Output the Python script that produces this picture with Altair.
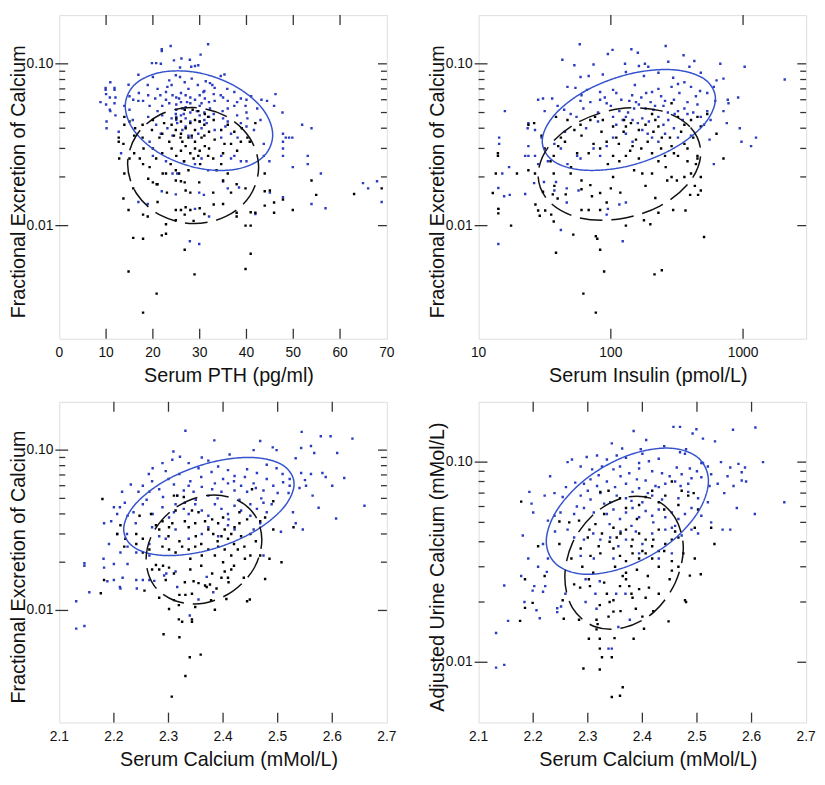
import altair as alt
import pandas as pd

FONT = "Liberation Sans"
PT_BLUE = "#2a3cc0"
ELL_BLUE = "#3553cc"
FRAME = "#333333"
TXT = "#111111"

# ---------------- Panel 1: Serum PTH ----------------
p1_blue = [(31.8,0.132),(23.8,0.129),(21.9,0.123),(21.9,0.12),(30.2,0.114),(27.9,0.106),(26.1,0.108),(19.8,0.101),(20.7,0.101),(21.7,0.10),(24.5,0.105),(29.7,0.098),(28.2,0.096),(29.0,0.097),(25.8,0.095),
(16.9,0.0856),(14.8,0.0742),(9.9,0.071),(9.9,0.069),(10.9,0.077),(11.8,0.071),(11.8,0.069),(18.9,0.074),(20.0,0.083),(23.1,0.072),(22.8,0.067),(24.9,0.085),(25.8,0.083),(26.8,0.077),(27.6,0.070),(30.8,0.067),(32.2,0.076),(32.7,0.074),(33.2,0.071),(34.5,0.084),(35.3,0.086),(35.9,0.070),(29.6,0.074),(23.5,0.079),(31.3,0.078),(37.4,0.067),(28.3,0.081),
(8.8,0.058),(10.8,0.062),(10.8,0.052),(10.9,0.051),(11.8,0.057),(13.9,0.055),(15.8,0.060),(16.9,0.059),(17.9,0.059),(19.3,0.055),(20.5,0.061),(21.6,0.064),(22.8,0.060),(23.5,0.057),(24.2,0.064),(24.9,0.049),(25.0,0.047),(25.6,0.061),(26.3,0.053),(27.3,0.058),(28.0,0.062),(29.0,0.060),(29.4,0.051),(30.4,0.057),(31.1,0.061),(32.2,0.053),(33.2,0.059),(34.5,0.064),(34.9,0.051),(36.0,0.059),(37.4,0.055),(38.8,0.061),(39.8,0.055),(41.0,0.063),(42.3,0.053),(43.2,0.060),(44.4,0.059),(46.2,0.065),(45.9,0.055),(47.7,0.050),(26.6,0.049),
(10.1,0.044),(10.1,0.040),(12.7,0.038),(15.7,0.045),(19.3,0.033),(20.7,0.042),(21.7,0.037),(23.1,0.040),(24.2,0.036),(25.2,0.043),(26.3,0.039),(27.6,0.036),(28.3,0.035),(29.7,0.037),(30.4,0.040),(31.5,0.043),(33.2,0.039),(34.6,0.035),(35.5,0.041),(36.7,0.037),(38.1,0.035),(38.8,0.043),(40.2,0.046),(41.6,0.039),(43.0,0.045),(43.7,0.032),(47.8,0.037),(48.4,0.035),(49.1,0.035),(49.8,0.035),(51.9,0.042),(53.9,0.040),(47.8,0.033),(47.8,0.030),
(13.2,0.028),(20.0,0.027),(22.8,0.025),(24.2,0.021),(25.2,0.021),(26.6,0.025),(29.0,0.024),(30.4,0.026),(31.8,0.022),(34.6,0.027),(36.7,0.026),(37.4,0.027),(38.8,0.025),(40.0,0.025),(43.7,0.027),(44.9,0.025),(47.8,0.027),(49.9,0.023),(53.1,0.027),(53.1,0.024),(55.9,0.021),
(16.9,0.0140),(18.9,0.0136),(21.9,0.0163),(24.9,0.0156),(29.0,0.0127),(29.9,0.016),(30.9,0.0155),(32.0,0.0114),(35.0,0.0187),(36.0,0.017),(38.4,0.0172),(45.0,0.016),(47.8,0.015),(41.9,0.0118),(53.9,0.0136),(56.9,0.0128),(64.9,0.0183),(66.0,0.017),(67.9,0.0188),(68.9,0.014),(27.9,0.008),(29.9,0.0077),
(25,0.062),(25,0.056),(25,0.052),(25,0.045),(26,0.066),(26,0.058),(26,0.048),(27,0.064),(27,0.054),(27,0.046),(27,0.041),(28,0.057),(28,0.050),(28,0.044),(30,0.064),(30,0.055),(30,0.048),(30,0.044),(31,0.068),(31,0.050),(31,0.045),(32,0.058),(32,0.047),(33,0.065),(33,0.049),(35,0.062),(35,0.046),(36,0.053),(36,0.044),(38,0.058),(38,0.048),(40,0.060),(40,0.050),(40,0.041),(22,0.055),(22,0.048),(21,0.070),(21,0.051),(24,0.074),(24,0.046),(19,0.064),(19,0.047),(17,0.066),(15,0.052),(15,0.063),(12,0.062),(12,0.048),(10,0.065),(10,0.056)]
p1_black = [(13.9,0.047),(26.8,0.052),(28.5,0.052),(29.7,0.051),(31.1,0.049),(31.8,0.047),
(13.9,0.042),(12.7,0.035),(12.7,0.033),(13.7,0.032),(16.2,0.040),(17.8,0.042),(17.8,0.035),(19.8,0.039),(21.4,0.035),(22.4,0.043),(23.5,0.033),(24.5,0.036),(24.9,0.039),(25.9,0.035),(26.3,0.033),(27.6,0.035),(28.3,0.036),(29.0,0.033),(30.4,0.035),(31.1,0.031),(33.2,0.034),(34.6,0.039),(35.3,0.032),(36.7,0.032),(37.4,0.038),(38.8,0.033),(40.2,0.035),(40.7,0.033),(41.9,0.043),
(12.8,0.026),(13.9,0.021),(15.0,0.026),(17.2,0.026),(17.9,0.024),(19.3,0.023),(20.7,0.026),(22.1,0.021),(22.8,0.021),(23.8,0.024),(24.9,0.022),(25.6,0.021),(26.7,0.025),(27.6,0.022),(28.7,0.026),(29.7,0.027),(30.1,0.024),(31.8,0.027),(32.9,0.026),(33.6,0.022),(34.6,0.024),(36.0,0.021),(43.9,0.021),
(13.7,0.0147),(14.8,0.0125),(15.8,0.017),(17.9,0.0117),(18.9,0.0114),(20.0,0.0185),(20.8,0.018),(24.9,0.019),(26.0,0.0188),(26.8,0.0185),(27.0,0.0165),(28.0,0.016),(29.9,0.0185),(32.9,0.016),(35.0,0.0136),(36.7,0.016),(37.9,0.018),(39.8,0.017),(24.9,0.0125),(24.9,0.0108),(26.0,0.0125),(26.8,0.0117),(28.0,0.0125),(28.7,0.0107),(30.0,0.0128),(31.0,0.0118),(37.9,0.012),(37.9,0.0114),(40.9,0.0121),(41.9,0.012),(43.9,0.0163),(45.0,0.0165),(45.9,0.0139),(45.9,0.012),(47.8,0.0145),(49.9,0.0125),(53.9,0.019),(54.9,0.0155),(63.0,0.0157),(68.9,0.017),(43.9,0.0133),
(15.8,0.0084),(17.9,0.0083),(21.9,0.0087),(22.8,0.0089),(22.8,0.0102),(26.8,0.0071),(39.8,0.010),(40.9,0.010),(40.9,0.0067),(14.8,0.0052),(28.9,0.0050),(39.8,0.0054),(20.8,0.0038),(17.9,0.0029),
(20,0.030),(20,0.045),(22,0.028),(22,0.037),(24,0.030),(24,0.042),(25,0.027),(25,0.046),(26,0.029),(26,0.037),(26,0.044),(27,0.031),(27,0.040),(28,0.028),(28,0.043),(29,0.030),(29,0.039),(29,0.045),(30,0.029),(30,0.044),(31,0.036),(31,0.042),(32,0.030),(32,0.038),(33,0.045),(35,0.028),(36,0.042),(38,0.029),(39,0.040),(18,0.030),(16,0.028),(16,0.036),(15,0.044),(21,0.018),(21,0.014),(23,0.016),(27,0.013),(33,0.0135),(35,0.019),(19,0.0195)]
p1_ell_blue = [(45.6,0.0363),(43.5,0.0524),(37.7,0.0724),(29.9,0.0879),(22.0,0.0889),(16.2,0.0748),(14.1,0.0547),(16.2,0.0379),(22.0,0.0274),(29.9,0.0226),(37.7,0.0223),(43.5,0.0265)]
p1_ell_black = [(42.6,0.0230),(40.7,0.0348),(35.6,0.0475),(28.6,0.0537),(21.6,0.0486),(16.5,0.0362),(14.6,0.0240),(16.5,0.0158),(21.6,0.0116),(28.6,0.0103),(35.6,0.0114),(40.7,0.0152)]

# ---------------- Panel 2: Serum Insulin ----------------
p2_blue = [(58.2,0.132),(260,0.129),(143,0.123),(103,0.122),(160,0.117),(95,0.115),(355,0.113),(43,0.106),(53,0.098),(74,0.099),(128,0.10),(163,0.097),(181,0.10),(192,0.096),(272,0.103),(393,0.096),(428,0.104),(673,0.10),(1028,0.096),(2066,0.080),
(59,0.083),(68,0.084),(87,0.086),(130,0.089),(178,0.084),(229,0.088),(296,0.082),(360,0.077),(479,0.088),(630,0.079),(711,0.081),
(47,0.072),(54,0.071),(66,0.069),(83,0.067),(104,0.069),(152,0.074),(205,0.067),(229,0.070),(288,0.072),(322,0.075),(404,0.072),(473,0.068),(536,0.066),(601,0.072),(766,0.060),(918,0.062),
(15.8,0.051),(23.8,0.043),(28.2,0.060),(30.7,0.061),(36,0.061),(39.6,0.055),(31.6,0.051),(44.4,0.052),(49.7,0.049),(59,0.059),(62,0.053),(83,0.060),(93,0.057),(116,0.051),(138,0.059),(150,0.053),(163,0.056),(183,0.053),(216,0.055),(257,0.059),(322,0.051),(360,0.053),(452,0.056),(536,0.051),(616,0.059),(776,0.057),(711,0.051),
(104,0.047),(123,0.045),(130,0.047),(146,0.045),(173,0.046),(194,0.044),(229,0.047),(272,0.045),(304,0.049),(380,0.049),(479,0.047),(568,0.045),(753,0.043),(944,0.040),(1253,0.035),(1150,0.031),(973,0.033),(558,0.034),
(23.5,0.040),(26.7,0.039),(29.9,0.035),(14.3,0.035),(14.3,0.032),(23.8,0.031),(23.8,0.027),(37.4,0.032),(41.9,0.030),(55.6,0.027),(74,0.030),(93,0.031),(104,0.035),(130,0.037),(146,0.033),(173,0.039),(205,0.035),(229,0.033),(257,0.037),(322,0.035),(404,0.036),(507,0.042),
(17,0.023),(15.1,0.021),(22.5,0.027),(26.7,0.027),(28.2,0.024),(33.4,0.025),(47,0.024),(59,0.026),(83,0.027),(601,0.024),
(14.1,0.0171),(14.1,0.0127),(14.1,0.0077),(15.6,0.0152),(17.2,0.0155),(22.5,0.0157),(26.3,0.0183),(31.2,0.0186),(37.4,0.0165),(38.5,0.0186),(46.4,0.017),(46.4,0.0139),(41.9,0.0094),(57,0.0165),(95,0.0127),(116,0.0135),(130,0.0139),(123,0.008),(93,0.0117),
(60,0.064),(70,0.058),(80,0.050),(90,0.062),(100,0.055),(110,0.066),(120,0.060),(135,0.050),(145,0.064),(155,0.058),(170,0.062),(185,0.066),(200,0.058),(210,0.052),(240,0.063),(250,0.055),(270,0.050),(300,0.060),(330,0.066),(350,0.045),(380,0.058),(420,0.050),(440,0.063),(110,0.042),(160,0.043),(190,0.037),(250,0.042),(300,0.040),(80,0.044),(65,0.040),(45,0.038),(55,0.047)]
p2_black = [(23.8,0.042),(26.3,0.043),(29.9,0.036),(38.5,0.047),(47,0.045),(41.9,0.035),(53,0.039),(59,0.042),(70,0.045),(76,0.047),(87,0.045),(104,0.041),(110,0.035),(126,0.045),(130,0.041),(142,0.043),(163,0.039),(183,0.042),(205,0.049),(217,0.045),(229,0.041),(243,0.035),(288,0.057),(322,0.047),(360,0.042),(404,0.045),(452,0.047),(479,0.041),(536,0.049),(360,0.032),(630,0.037),(711,0.026),(452,0.027),
(14,0.028),(14,0.027),(13.5,0.021),(19.5,0.021),(23.8,0.022),(26.7,0.021),(31.6,0.030),(37,0.027),(55.6,0.028),(74,0.032),(83,0.030),(93,0.033),(104,0.027),(116,0.025),(130,0.027),(146,0.031),(163,0.026),(205,0.028),(229,0.025),(257,0.027),(288,0.031),(322,0.027),(380,0.025),(452,0.026),(404,0.021),(37,0.021),(49.7,0.021),(104,0.020),(173,0.021),(205,0.021),(288,0.020),(360,0.020),(479,0.020),
(12.8,0.0159),(14.1,0.0127),(14.1,0.0119),(17.6,0.010),(26.9,0.0135),(28.2,0.0124),(29,0.0115),(30.7,0.0162),(31.9,0.0124),(35.4,0.0117),(36.4,0.0156),(37,0.0106),(37.4,0.0176),(38.5,0.0068),(39.6,0.0147),(45.6,0.0156),(52,0.0088),(60,0.0168),(60,0.0125),(68,0.0125),(70,0.0178),(72,0.0152),(83,0.0159),(83,0.0125),(77,0.0086),(79,0.0083),(83,0.0071),(89,0.0052),(62,0.0038),(77,0.0029),(93,0.0139),(118,0.016),(130,0.010),(178,0.0108),(183,0.0176),(199,0.0102),(214,0.005),(243,0.0053),(217,0.0148),(229,0.012),(267,0.019),(296,0.0125),(316,0.019),(367,0.0124),(398,0.0155),(432,0.0176),(457,0.0155),(479,0.0165),(507,0.0085),
(45,0.033),(60,0.036),(68,0.028),(85,0.038),(95,0.024),(115,0.032),(125,0.038),(140,0.029),(155,0.034),(170,0.030),(190,0.033),(210,0.038),(240,0.030),(260,0.023),(280,0.035),(300,0.028),(340,0.038),(380,0.030),(420,0.035),(440,0.024),(35,0.025),(40,0.031),(50,0.023),(150,0.022),(100,0.017),(60,0.019)]
p2_ell_blue = [(618,0.0608),(505,0.0809),(291,0.0920),(137,0.0864),(64.4,0.0681),(37.2,0.0480),(30.3,0.0333),(37.2,0.0249),(64.4,0.0220),(137,0.0234),(291,0.0297),(505,0.0421)]
p2_ell_black = [(479,0.0282),(396,0.0409),(235,0.0514),(116,0.0527),(57.3,0.0438),(34.1,0.0310),(28.2,0.0205),(34.1,0.0141),(57.3,0.0112),(116,0.0110),(235,0.0132),(396,0.0187)]

# ---------------- Panel 3: Serum Calcium vs FE Ca ----------------
p3_blue = [(2.331,0.132),(2.384,0.115),(2.544,0.13),(2.579,0.122),(2.597,0.122),(2.637,0.118),(2.468,0.114),(2.309,0.098),(2.456,0.10),(2.491,0.104),(2.498,0.10),(2.412,0.094),(2.321,0.091),(2.361,0.09),(2.373,0.086),(2.543,0.103),(2.561,0.106),(2.567,0.096),(2.609,0.096),(2.533,0.089),
(2.289,0.083),(2.307,0.087),(2.271,0.077),(2.264,0.071),(2.295,0.074),(2.337,0.083),(2.355,0.077),(2.379,0.073),(2.391,0.079),(2.409,0.075),(2.421,0.069),(2.444,0.076),(2.462,0.072),(2.48,0.081),(2.498,0.077),(2.509,0.071),(2.522,0.066),(2.543,0.072),(2.561,0.071),(2.582,0.072),(2.588,0.068),(2.622,0.067),(2.659,0.045),(2.607,0.0375),(2.575,0.0437),
(2.231,0.061),(2.215,0.055),(2.245,0.055),(2.253,0.060),(2.265,0.055),(2.283,0.057),(2.31,0.061),(2.316,0.052),(2.328,0.056),(2.337,0.060),(2.346,0.055),(2.361,0.059),(2.373,0.052),(2.385,0.062),(2.397,0.055),(2.409,0.062),(2.421,0.056),(2.433,0.060),(2.444,0.055),(2.456,0.062),(2.474,0.056),(2.492,0.060),(2.51,0.063),(2.522,0.060),(2.54,0.058),(2.552,0.060),(2.564,0.052),
(2.2,0.044),(2.211,0.044),(2.182,0.035),(2.195,0.036),(2.206,0.040),(2.225,0.039),(2.236,0.041),(2.253,0.046),(2.271,0.040),(2.289,0.044),(2.301,0.038),(2.313,0.046),(2.328,0.043),(2.337,0.040),(2.349,0.046),(2.361,0.042),(2.373,0.039),(2.385,0.046),(2.397,0.043),(2.409,0.040),(2.421,0.045),(2.433,0.042),(2.45,0.046),(2.462,0.043),(2.474,0.047),(2.48,0.041),(2.489,0.046),(2.528,0.041),(2.533,0.035),(2.546,0.032),(2.506,0.031),
(2.224,0.030),(2.206,0.030),(2.191,0.026),(2.181,0.021),(2.212,0.023),(2.225,0.025),(2.241,0.023),(2.265,0.026),(2.283,0.029),(2.295,0.028),(2.313,0.032),(2.337,0.028),(2.361,0.030),(2.373,0.033),(2.391,0.029),(2.409,0.034),(2.421,0.032),(2.456,0.032),(2.468,0.035),(2.474,0.022),(2.146,0.019),(2.265,0.022),
(2.146,0.0197),(2.131,0.0114),(2.131,0.0077),(2.146,0.008),(2.155,0.013),(2.182,0.0185),(2.188,0.0152),(2.2,0.0195),(2.2,0.0155),(2.211,0.014),(2.212,0.0137),(2.216,0.016),(2.225,0.0195),(2.241,0.0155),(2.242,0.0137),(2.253,0.0155),(2.265,0.0155),(2.274,0.0153),(2.292,0.0165),(2.296,0.017),(2.313,0.0175),(2.316,0.014),(2.339,0.0093),(2.355,0.0117),(2.37,0.0162),(2.382,0.013),
(2.30,0.066),(2.32,0.071),(2.34,0.064),(2.36,0.068),(2.38,0.057),(2.40,0.066),(2.42,0.064),(2.44,0.068),(2.46,0.058),(2.48,0.066),(2.50,0.054),(2.35,0.049),(2.39,0.050),(2.43,0.049),(2.47,0.050),(2.33,0.047),(2.29,0.051),(2.26,0.049),(2.27,0.064),(2.31,0.041),(2.41,0.037),(2.45,0.039),(2.52,0.054),(2.55,0.065),(2.60,0.060),(2.24,0.035),(2.27,0.033),(2.22,0.047)]
p3_black = [(2.179,0.0496),(2.212,0.034),(2.206,0.030),(2.219,0.025),(2.221,0.028),(2.241,0.030),(2.247,0.039),(2.253,0.028),(2.268,0.040),(2.277,0.034),(2.283,0.032),(2.289,0.036),(2.301,0.033),(2.307,0.035),(2.313,0.042),(2.31,0.052),(2.316,0.052),(2.328,0.051),(2.337,0.033),(2.343,0.042),(2.349,0.035),(2.355,0.041),(2.367,0.036),(2.373,0.032),(2.382,0.030),(2.391,0.035),(2.397,0.029),(2.403,0.032),(2.409,0.028),(2.415,0.030),(2.421,0.033),(2.43,0.041),(2.433,0.029),(2.444,0.037),(2.453,0.057),(2.468,0.036),(2.477,0.038),(2.492,0.048),(2.492,0.032),(2.529,0.033),(2.507,0.020),(2.485,0.021),(2.468,0.022),(2.45,0.022),(2.439,0.025),(2.427,0.024),(2.415,0.022),(2.403,0.024),(2.391,0.025),(2.385,0.022),(2.373,0.024),(2.361,0.022),(2.349,0.025),(2.337,0.024),(2.325,0.025),(2.313,0.023),(2.301,0.024),(2.289,0.025),(2.265,0.024),(2.253,0.023),(2.241,0.026),
(2.176,0.0128),(2.182,0.0155),(2.256,0.0133),(2.277,0.0192),(2.283,0.018),(2.295,0.0155),(2.301,0.0185),(2.283,0.012),(2.301,0.0102),(2.31,0.0116),(2.319,0.0108),(2.32,0.0125),(2.331,0.0125),(2.34,0.018),(2.343,0.0127),(2.346,0.0152),(2.349,0.0105),(2.355,0.0148),(2.367,0.0143),(2.376,0.0145),(2.378,0.0116),(2.385,0.0101),(2.388,0.0137),(2.397,0.016),(2.403,0.0175),(2.406,0.0118),(2.409,0.016),(2.415,0.018),(2.444,0.0114),(2.449,0.0117),(2.438,0.016),(2.477,0.0157),(2.319,0.0088),(2.325,0.0085),(2.343,0.0088),(2.343,0.0085),(2.291,0.0071),(2.32,0.0068),(2.339,0.0051),(2.359,0.0053),(2.331,0.0039),(2.306,0.0029),
(2.30,0.029),(2.32,0.027),(2.33,0.036),(2.35,0.029),(2.36,0.026),(2.38,0.037),(2.39,0.027),(2.40,0.038),(2.42,0.026),(2.43,0.035),(2.45,0.030),(2.46,0.027),(2.29,0.019),(2.31,0.017),(2.34,0.021),(2.36,0.019),(2.38,0.017),(2.40,0.020),(2.42,0.019),(2.44,0.021),(2.33,0.015),(2.37,0.014),(2.41,0.015),(2.27,0.018)]
p3_ell_blue = [(2.530,0.0615),(2.509,0.0807),(2.452,0.0900),(2.374,0.0832),(2.296,0.0650),(2.239,0.0459),(2.218,0.0321),(2.239,0.0245),(2.296,0.0220),(2.374,0.0238),(2.452,0.0304),(2.509,0.0431)]
p3_ell_black = [(2.471,0.0276),(2.457,0.0398),(2.418,0.0501),(2.365,0.0518),(2.312,0.0435),(2.273,0.0311),(2.259,0.0208),(2.273,0.0144),(2.312,0.0115),(2.365,0.0111),(2.418,0.0132),(2.457,0.0184)]

# ---------------- Panel 4: Serum Calcium vs Adjusted Urine Calcium ----------------
p4_blue = [(2.384,0.143),(2.457,0.150),(2.469,0.150),(2.499,0.146),(2.492,0.139),(2.566,0.145),(2.607,0.149),(2.407,0.129),(2.533,0.127),(2.511,0.131),(2.344,0.124),(2.363,0.117),(2.397,0.116),(2.48,0.116),(2.621,0.10),(2.298,0.106),(2.317,0.108),(2.335,0.103),(2.353,0.108),(2.37,0.105),(2.394,0.099),(2.412,0.101),(2.43,0.104),(2.469,0.112),(2.478,0.11),(2.511,0.099),(2.263,0.10),(2.271,0.103),
(2.287,0.095),(2.308,0.092),(2.326,0.095),(2.347,0.092),(2.359,0.095),(2.376,0.088),(2.394,0.093),(2.418,0.090),(2.436,0.088),(2.463,0.094),(2.472,0.087),(2.487,0.093),(2.508,0.099),(2.526,0.087),(2.544,0.10),(2.561,0.094),(2.576,0.098),(2.588,0.094),(2.582,0.089),
(2.231,0.085),(2.277,0.079),(2.293,0.078),(2.305,0.082),(2.317,0.076),(2.335,0.080),(2.37,0.078),(2.394,0.074),(2.406,0.081),(2.424,0.076),(2.442,0.078),(2.46,0.080),(2.484,0.078),(2.508,0.084),(2.523,0.076),(2.538,0.078),(2.556,0.085),(2.567,0.076),(2.582,0.081),
(2.193,0.071),(2.197,0.062),(2.221,0.068),(2.239,0.070),(2.254,0.067),(2.287,0.068),(2.305,0.065),(2.323,0.070),(2.341,0.063),(2.353,0.068),(2.37,0.066),(2.382,0.071),(2.4,0.063),(2.418,0.068),(2.436,0.065),(2.466,0.066),(2.484,0.071),(2.502,0.066),(2.52,0.063),(2.573,0.059),(2.606,0.055),(2.66,0.063),
(2.2,0.056),(2.181,0.043),(2.227,0.051),(2.239,0.054),(2.275,0.055),(2.293,0.059),(2.311,0.056),(2.335,0.055),(2.347,0.058),(2.359,0.052),(2.37,0.056),(2.382,0.059),(2.394,0.053),(2.406,0.057),(2.418,0.054),(2.43,0.058),(2.442,0.053),(2.454,0.056),(2.466,0.052),(2.478,0.055),(2.49,0.059),(2.508,0.054),(2.526,0.050),(2.547,0.046),(2.561,0.046),
(2.191,0.033),(2.218,0.039),(2.263,0.046),(2.275,0.042),(2.293,0.041),(2.323,0.041),(2.341,0.042),(2.356,0.038),(2.37,0.041),(2.388,0.045),(2.4,0.039),(2.418,0.044),(2.442,0.046),(2.454,0.047),(2.472,0.043),(2.49,0.046),(2.502,0.044),
(2.227,0.033),(2.287,0.034),(2.311,0.033),(2.347,0.033),(2.394,0.035),(2.43,0.033),(2.454,0.035),
(2.132,0.014),(2.132,0.0094),(2.147,0.0097),(2.154,0.0161),(2.147,0.0242),(2.178,0.027),(2.184,0.020),(2.199,0.0228),(2.202,0.024),(2.209,0.030),(2.218,0.0225),(2.222,0.024),(2.225,0.0283),(2.206,0.0182),(2.212,0.0166),(2.244,0.0186),(2.244,0.0178),(2.251,0.019),(2.259,0.022),(2.296,0.020),(2.296,0.026),(2.314,0.022),(2.316,0.0185),(2.338,0.0117),(2.344,0.0117),(2.352,0.022),(2.356,0.015),(2.369,0.022),(2.377,0.0163),(2.322,0.0254),
(2.30,0.072),(2.32,0.086),(2.33,0.062),(2.35,0.075),(2.36,0.085),(2.38,0.064),(2.39,0.082),(2.41,0.070),(2.43,0.075),(2.45,0.085),(2.47,0.076),(2.49,0.083),(2.50,0.090),(2.34,0.049),(2.38,0.048),(2.42,0.050),(2.46,0.048),(2.28,0.060),(2.26,0.075),(2.25,0.056),(2.55,0.070),(2.59,0.080),(2.52,0.095),(2.40,0.110),(2.44,0.120),(2.31,0.044),(2.36,0.045),(2.24,0.045)]
p4_black = [(2.178,0.0635),(2.248,0.0505),(2.266,0.050),(2.284,0.051),(2.303,0.046),(2.323,0.071),(2.338,0.072),(2.359,0.066),(2.37,0.059),(2.394,0.061),(2.406,0.067),(2.418,0.072),(2.43,0.063),(2.442,0.068),(2.454,0.080),(2.466,0.061),(2.472,0.072),(2.484,0.068),(2.494,0.070),(2.502,0.058),(2.496,0.047),(2.526,0.047),(2.532,0.039),(2.314,0.049),(2.326,0.044),(2.347,0.047),(2.353,0.042),(2.37,0.046),(2.382,0.041),(2.394,0.044),(2.406,0.041),(2.418,0.038),(2.43,0.046),(2.442,0.039),(2.454,0.041),(2.466,0.042),(2.475,0.035),(2.496,0.033),(2.287,0.037),(2.305,0.034),(2.323,0.035),(2.347,0.037),(2.359,0.034),(2.37,0.032),(2.382,0.035),(2.394,0.033),(2.406,0.035),(2.418,0.033),(2.43,0.036),(2.454,0.032),(2.209,0.038),(2.248,0.039),
(2.185,0.026),(2.185,0.0187),(2.199,0.0198),(2.176,0.0161),(2.221,0.027),(2.254,0.0204),(2.256,0.0165),(2.275,0.0245),(2.284,0.0163),(2.286,0.0236),(2.302,0.026),(2.304,0.024),(2.316,0.0163),(2.316,0.0146),(2.318,0.0155),(2.322,0.0193),(2.335,0.022),(2.338,0.0169),(2.347,0.0179),(2.347,0.0204),(2.359,0.024),(2.364,0.027),(2.37,0.026),(2.376,0.024),(2.382,0.021),(2.388,0.0185),(2.394,0.0232),(2.4,0.0169),(2.406,0.021),(2.412,0.0236),(2.43,0.022),(2.448,0.016),(2.454,0.0287),(2.466,0.030),(2.478,0.0204),(2.48,0.020),(2.487,0.0271),(2.507,0.0275),(2.302,0.0131),(2.322,0.0131),(2.322,0.0117),(2.326,0.0106),(2.344,0.0106),(2.349,0.0132),(2.322,0.0092),(2.292,0.0093),(2.364,0.0075),(2.359,0.0068),(2.344,0.0067),(2.384,0.0131),(2.403,0.0147),
(2.30,0.042),(2.32,0.038),(2.34,0.040),(2.36,0.044),(2.38,0.038),(2.40,0.036),(2.42,0.041),(2.44,0.036),(2.46,0.045),(2.31,0.028),(2.33,0.025),(2.35,0.030),(2.37,0.028),(2.39,0.029),(2.41,0.027),(2.43,0.030),(2.45,0.026),(2.34,0.020),(2.36,0.018),(2.38,0.022),(2.42,0.018),(2.29,0.030),(2.27,0.033),(2.33,0.055),(2.39,0.052),(2.44,0.058)]
p4_ell_blue = [(2.521,0.0805),(2.501,0.1057),(2.447,0.1175),(2.372,0.1076),(2.298,0.0830),(2.244,0.0578),(2.224,0.0402),(2.244,0.0306),(2.298,0.0275),(2.372,0.0301),(2.447,0.0389),(2.501,0.0558)]
p4_ell_black = [(2.475,0.0370),(2.460,0.0526),(2.421,0.0652),(2.366,0.0664),(2.312,0.0552),(2.272,0.0395),(2.258,0.0266),(2.272,0.0187),(2.312,0.0151),(2.366,0.0149),(2.421,0.0178),(2.460,0.0249)]

# tick values and labels
Y_MAJOR = [0.01, 0.1]
Y_MAJOR_LABELS = ["0.01", "0.10"]
Y_MINOR = [0.02, 0.03, 0.04, 0.05, 0.06, 0.07, 0.08, 0.09]
PTH_TICKS = [0, 10, 20, 30, 40, 50, 60, 70]
PTH_LABELS = ["0", "10", "20", "30", "40", "50", "60", "70"]
INS_TICKS = [10, 100, 1000]
INS_LABELS = ["10", "100", "1000"]
CA_TICKS = [2.1, 2.2, 2.3, 2.4, 2.5, 2.6, 2.7]
CA_LABELS = ["2.1", "2.2", "2.3", "2.4", "2.5", "2.6", "2.7"]

W = 332
H_TOP = 328
H_BOT = 325

COLOR_SCALE = alt.Scale(domain=["blue", "black", "eblue", "eblack"],
                        range=[PT_BLUE, "#000000", ELL_BLUE, "#111111"])
DASH_SCALE = alt.Scale(domain=["eblue", "eblack"], range=[[1, 0], [23, 9]])


def panel(blue, black, eblue, eblack, xtype, xdom, xticks, xlabels, xinner,
          xtitle, ytitle, ydom, h):
    pts = pd.DataFrame(
        [{"x": a, "y": b, "g": "blue"} for a, b in blue]
        + [{"x": a, "y": b, "g": "black"} for a, b in black]
    )
    ell = pd.DataFrame(
        [{"x": a, "y": b, "g": "eblue", "i": k} for k, (a, b) in enumerate(eblue)]
        + [{"x": a, "y": b, "g": "eblack", "i": k} for k, (a, b) in enumerate(eblack)]
    )
    if xtype == "linear":
        xs = alt.Scale(type="linear", domain=xdom, nice=False, zero=False)
    else:
        xs = alt.Scale(type=xtype, domain=xdom, nice=False)
    ys = alt.Scale(type="log", domain=ydom, nice=False)

    points = alt.Chart(pts).mark_square(size=6, opacity=1, clip=True).encode(
        x=alt.X("x:Q", scale=xs, axis=None),
        y=alt.Y("y:Q", scale=ys, axis=None),
        color=alt.Color("g:N", scale=COLOR_SCALE, legend=None),
    )
    ellipses = alt.Chart(ell).mark_line(interpolate="cardinal-closed", strokeWidth=1.5).encode(
        x=alt.X("x:Q", scale=xs, axis=None),
        y=alt.Y("y:Q", scale=ys, axis=None),
        color=alt.Color("g:N", scale=COLOR_SCALE, legend=None),
        strokeDash=alt.StrokeDash("g:N", scale=DASH_SCALE, legend=None),
        order="i:Q",
    )
    xt = pd.DataFrame({"v": xinner})
    ymaj = pd.DataFrame({"v": Y_MAJOR, "t": Y_MAJOR_LABELS})
    ymin = pd.DataFrame({"v": Y_MINOR})
    xl = pd.DataFrame({"v": xticks, "t": xlabels})
    rule = dict(color=FRAME, strokeWidth=1.3)
    x_top = alt.Chart(xt).mark_rule(**rule).encode(
        x=alt.X("v:Q", scale=xs, axis=None), y=alt.value(0), y2=alt.value(10))
    x_bot = alt.Chart(xt).mark_rule(**rule).encode(
        x=alt.X("v:Q", scale=xs, axis=None), y=alt.value(h), y2=alt.value(h - 10))
    y_maj_l = alt.Chart(ymaj).mark_rule(**rule).encode(
        y=alt.Y("v:Q", scale=ys, axis=None), x=alt.value(-4), x2=alt.value(9))
    y_maj_r = alt.Chart(ymaj).mark_rule(**rule).encode(
        y=alt.Y("v:Q", scale=ys, axis=None), x=alt.value(W - 9), x2=alt.value(W))
    y_min_l = alt.Chart(ymin).mark_rule(**rule).encode(
        y=alt.Y("v:Q", scale=ys, axis=None), x=alt.value(0), x2=alt.value(6))
    y_min_r = alt.Chart(ymin).mark_rule(**rule).encode(
        y=alt.Y("v:Q", scale=ys, axis=None), x=alt.value(W - 6), x2=alt.value(W))

    txt = dict(font=FONT, color=TXT)
    x_lab = alt.Chart(xl).mark_text(fontSize=14, align="center", baseline="alphabetic", **txt).encode(
        x=alt.X("v:Q", scale=xs, axis=None), y=alt.value(h + 19), text="t:N")
    y_lab = alt.Chart(ymaj).mark_text(fontSize=14, align="right", baseline="middle", **txt).encode(
        y=alt.Y("v:Q", scale=ys, axis=None), x=alt.value(-6), text="t:N")
    x_tt = alt.Chart(pd.DataFrame({"t": [xtitle]})).mark_text(
        fontSize=20, align="center", baseline="alphabetic", **txt).encode(
        x=alt.value(W / 2 + 6), y=alt.value(h + 44), text="t:N")
    y_tt = alt.Chart(pd.DataFrame({"t": [ytitle]})).mark_text(
        fontSize=20, align="center", baseline="alphabetic", angle=270, **txt).encode(
        x=alt.value(-35), y=alt.value(h / 2 + 5), text="t:N")

    return alt.layer(points, ellipses, x_top, x_bot, y_maj_l, y_maj_r, y_min_l, y_min_r,
                     x_lab, y_lab, x_tt, y_tt).properties(width=W, height=h)


p1 = panel(p1_blue, p1_black, p1_ell_blue, p1_ell_black, "linear", [0, 70],
           PTH_TICKS, PTH_LABELS, [10, 20, 30, 40, 50, 60],
           "Serum PTH (pg/ml)", "Fractional Excretion of Calcium", [0.002, 0.2], H_TOP)
p2 = panel(p2_blue, p2_black, p2_ell_blue, p2_ell_black, "log", [10, 3000],
           INS_TICKS, INS_LABELS, [100, 1000],
           "Serum Insulin (pmol/L)", "Fractional Excretion of Calcium", [0.002, 0.2], H_TOP)
p3 = panel(p3_blue, p3_black, p3_ell_blue, p3_ell_black, "linear", [2.1, 2.7],
           CA_TICKS, CA_LABELS, [2.2, 2.3, 2.4, 2.5, 2.6],
           "Serum Calcium (mMol/L)", "Fractional Excretion of Calcium", [0.002, 0.2], H_BOT)
p4 = panel(p4_blue, p4_black, p4_ell_blue, p4_ell_black, "linear", [2.1, 2.7],
           CA_TICKS, CA_LABELS, [2.2, 2.3, 2.4, 2.5, 2.6],
           "Serum Calcium (mMol/L)", "Adjusted Urine Calcium (mMol/L)", [0.005, 0.2], H_BOT)

row1 = alt.hconcat(p1, p2, spacing=32)
row2 = alt.hconcat(p3, p4, spacing=30)
chart = alt.vconcat(row1, row2, spacing=13).properties(padding=0).configure_view(
    stroke=FRAME, strokeWidth=1.5
).configure(background="white")

chart.save("out.html", embed_options={"renderer": "svg", "actions": False})
